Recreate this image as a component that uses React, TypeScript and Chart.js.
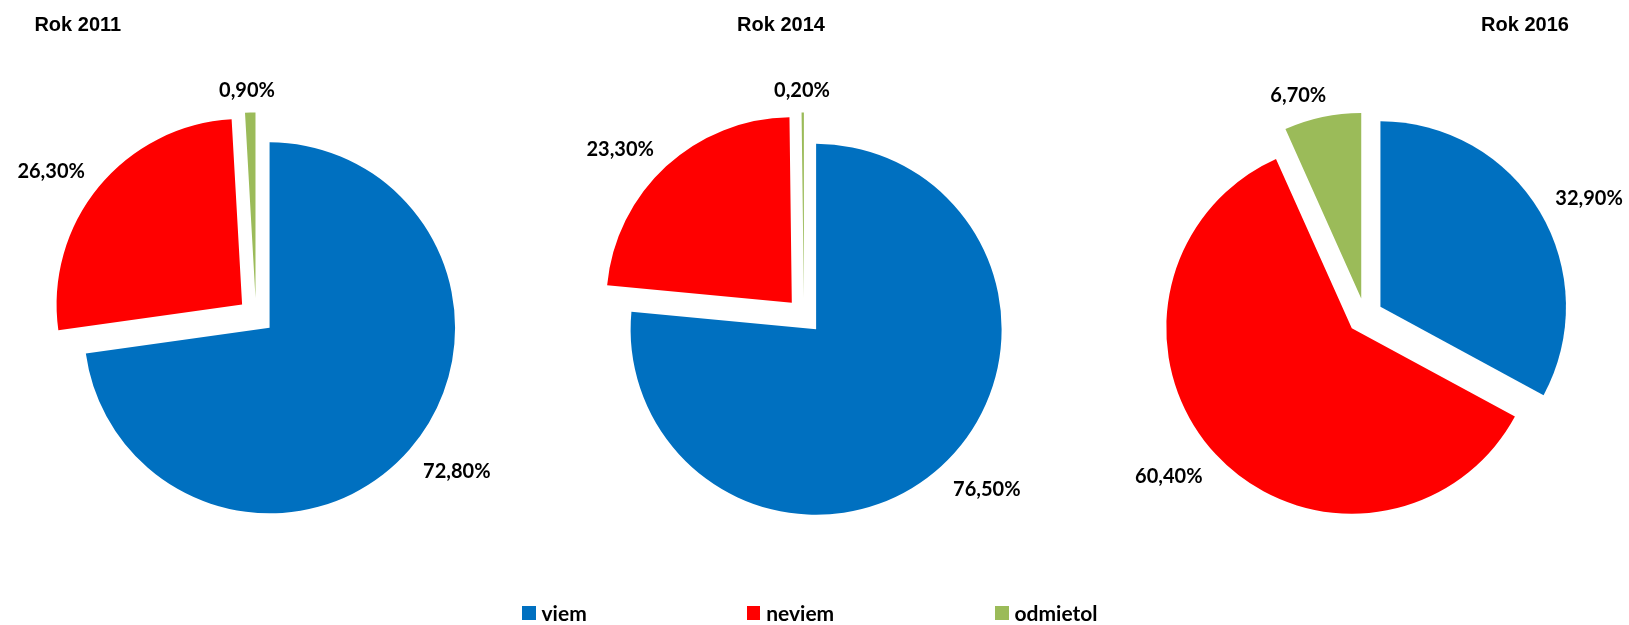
import React, { useEffect, useRef } from 'react';
import { Chart, registerables } from 'chart.js';

Chart.register(...registerables);

// ---- data ----
const categories = ['viem', 'neviem', 'odmietol'];
const years = ['Rok 2011', 'Rok 2014', 'Rok 2016'];
const values2011 = [72.8, 26.3, 0.9];
const values2014 = [76.5, 23.3, 0.2];
const values2016 = [32.9, 60.4, 6.7];
const sliceColors = ['#0070C0', '#FF0000', '#9BBB59'];

const seriesValues = [values2011, values2014, values2016];

// ---- layout / style ----
const PAGE_W = 1629;
const PAGE_H = 625;
const PIE_CX = [255.7, 803.9, 1364.5];
const PIE_CY = 316;
const RADIUS = 185.5;
const EXPLODE = 18;
const CANVAS_W = 580;
const LABEL_FONT = '700 20px Lato';
const LABEL_GAP = 18;
const LABEL_HALF_H_UP = 4;
const LABEL_HALF_H_DOWN = 10;
const LABEL_SNAP = 3.5;
const TITLE_CX = [77.8, 781, 1525];
const LEGEND_X = [522, 746.7, 995];

function fmtPct(v: number): string {
  return v.toFixed(2).replace('.', ',') + '%';
}

function clamp1(v: number): number {
  return Math.max(-1, Math.min(1, v));
}

const explodePlugin = {
  id: 'explodeSlices',
  beforeDatasetDraw(chart: any, args: any) {
    const ctx = chart.ctx;
    args.meta.data.forEach((arc: any) => {
      const p = arc.getProps(['startAngle', 'endAngle'], true);
      const mid = (p.startAngle + p.endAngle) / 2;
      ctx.save();
      ctx.translate(Math.cos(mid) * EXPLODE, Math.sin(mid) * EXPLODE);
      arc.draw(ctx);
      ctx.restore();
    });
    return false;
  },
  afterDatasetsDraw(chart: any) {
    const meta = chart.getDatasetMeta(0);
    const data = chart.data.datasets[0].data as number[];
    const ctx = chart.ctx;
    ctx.save();
    ctx.font = LABEL_FONT;
    ctx.fillStyle = '#000000';
    ctx.textAlign = 'center';
    ctx.textBaseline = 'middle';
    meta.data.forEach((arc: any, i: number) => {
      const p = arc.getProps(['x', 'y', 'startAngle', 'endAngle', 'outerRadius'], true);
      const mid = (p.startAngle + p.endAngle) / 2;
      const ux = Math.cos(mid);
      const uy = Math.sin(mid);
      const text = fmtPct(data[i]);
      const hw = ctx.measureText(text).width / 2;
      const hh = uy < 0 ? LABEL_HALF_H_UP : LABEL_HALF_H_DOWN;
      const r0 = p.outerRadius + EXPLODE + LABEL_GAP;
      const lx = p.x + ux * r0 + hw * clamp1(ux * LABEL_SNAP);
      const ly = p.y + uy * r0 + hh * clamp1(uy * LABEL_SNAP);
      ctx.fillText(text, lx, ly);
    });
    ctx.restore();
  },
};

function PieCanvas({ values, cx }: { values: number[]; cx: number }) {
  const ref = useRef<HTMLCanvasElement | null>(null);
  useEffect(() => {
    if (!ref.current) return;
    const chart = new Chart(ref.current, {
      type: 'pie',
      data: {
        labels: categories,
        datasets: [
          {
            data: values,
            backgroundColor: sliceColors,
            borderWidth: 0,
          },
        ],
      },
      options: {
        responsive: false,
        animation: false,
        radius: RADIUS,
        layout: { padding: { top: 2 * PIE_CY - PAGE_H, bottom: 0, left: 0, right: 0 } },
        plugins: {
          legend: { display: false },
          title: { display: false },
          tooltip: { enabled: false },
        },
        events: [],
      } as any,
      plugins: [explodePlugin],
    });
    let alive = true;
    if ((document as any).fonts && (document as any).fonts.load) {
      (document as any).fonts.load(LABEL_FONT).then(() => {
        if (alive) chart.update();
      });
    }
    return () => {
      alive = false;
      chart.destroy();
    };
  }, [values]);
  return (
    <canvas
      ref={ref}
      width={CANVAS_W}
      height={PAGE_H}
      style={{ position: 'absolute', left: cx - CANVAS_W / 2, top: 0, width: CANVAS_W, height: PAGE_H }}
    />
  );
}

export default function App() {
  return (
    <div
      style={{
        position: 'fixed',
        left: 0,
        top: 0,
        width: PAGE_W,
        height: PAGE_H,
        overflow: 'hidden',
        background: '#ffffff',
      }}
    >
      {seriesValues.map((vals, i) => (
        <PieCanvas key={i} values={vals} cx={PIE_CX[i]} />
      ))}
      {years.map((t, i) => (
        <div
          key={t}
          style={{
            position: 'absolute',
            left: TITLE_CX[i],
            top: 14,
            transform: 'translateX(-50%)',
            font: '700 20px "Liberation Sans", Arial, sans-serif',
            lineHeight: '20px',
            color: '#000',
            whiteSpace: 'nowrap',
          }}
        >
          {t}
        </div>
      ))}
      {categories.map((c, i) => (
        <React.Fragment key={c}>
          <div
            style={{
              position: 'absolute',
              left: LEGEND_X[i],
              top: 606.3,
              width: 13.5,
              height: 13.5,
              background: sliceColors[i],
            }}
          />
          <div
            style={{
              position: 'absolute',
              left: LEGEND_X[i] + 19.5,
              top: 602.4,
              font: '700 21px Lato, sans-serif',
              lineHeight: '21px',
              color: '#000',
              whiteSpace: 'nowrap',
            }}
          >
            {c}
          </div>
        </React.Fragment>
      ))}
    </div>
  );
}
